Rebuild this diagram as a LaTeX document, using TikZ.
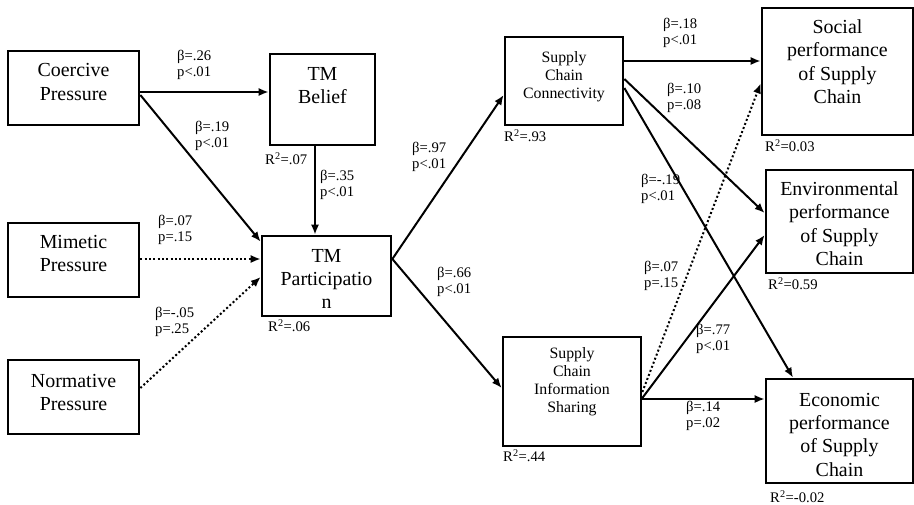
\documentclass[tikz,border=0pt]{standalone}
\usepackage{fontspec}
\setmainfont{Liberation Serif}
\usepackage{tikz}
\usetikzlibrary{arrows.meta, calc}

% box text: first baseline raised by #1 above the box centre
\newcommand{\lift}[2]{\raisebox{#1}[0pt][0pt]{\begin{tabular}[t]{@{}c@{}}#2\end{tabular}}}

\begin{document}
\begin{tikzpicture}[
        x=0.03cm, y=-0.03cm, % one unit = one pixel of the layout, y downwards
        box/.style={rectangle, draw, line width=2.3pt, inner sep=0pt,
                    font=\fontsize{17}{20}\selectfont},
        smallbox/.style={box, font=\fontsize{13.5}{15.4}\selectfont},
        coef/.style={anchor=west, inner sep=0pt, align=left,
                     font=\fontsize{12.5}{13.6}\selectfont},
        arrow/.style={line width=1.7pt, -{Latex[length=8.5pt, width=7pt]}},
        weak/.style={arrow, dotted}
      ]
      \useasboundingbox (0,0) rectangle (914,505);

      % --- Institutional pressures ---
      \node (coercive) [box, minimum width=3.93cm, minimum height=2.22cm] at (73.5,88) {\lift{9.4pt}{Coercive\\Pressure}};
      \node (mimetic) [box, minimum width=3.93cm, minimum height=2.22cm] at (73.5,260) {\lift{10.2pt}{Mimetic\\Pressure}};
      \node (normative) [box, minimum width=3.93cm, minimum height=2.22cm] at (73.5,397) {\lift{8.5pt}{Normative\\Pressure}};

      % --- Top management ---
      \node (belief) [box, minimum width=3.15cm, minimum height=2.73cm] at (322.5,99.5) {\lift{16.6pt}{TM\\Belief}};
      \node (particip) [box, minimum width=3.87cm, minimum height=2.40cm] at (326.5,276) {\lift{11.9pt}{TM\\Participatio\\n}};

      % --- Supply chain ---
      \node (connect) [smallbox, minimum width=3.54cm, minimum height=2.64cm] at (564,81) {\lift{16.2pt}{Supply\\Chain\\Connectivity}};
      \node (sharing) [smallbox, minimum width=4.14cm, minimum height=3.27cm] at (572,391.5) {\lift{28.5pt}{Supply\\Chain\\Information\\Sharing}};

      % --- Performance outcomes ---
      \node (social) [box, minimum width=4.53cm, minimum height=3.81cm] at (837.5,71.5) {\lift{32.7pt}{Social\\performance\\of Supply\\Chain}};
      \node (environ) [box, minimum width=4.41cm, minimum height=3.09cm] at (839.5,221.5) {\lift{22.5pt}{Environmental\\performance\\of Supply\\Chain}};
      \node (economic) [box, minimum width=4.41cm, minimum height=3.12cm] at (839.5,431) {\lift{21.3pt}{Economic\\performance\\of Supply\\Chain}};

      % --- Paths ---
      \draw [arrow] ($(coercive.east)+(0,4)$) -- ($(belief.west)+(0,-7.5)$);
      \draw [arrow] ($(coercive.east)+(0,7)$) -- ($(particip.north west)+(0,7)$);
      \draw [arrow] ($(belief.south)+(-7.5,0)$) -- ($(particip.north)+(-11.5,0)$);
      \draw [weak] ($(mimetic.east)+(0,-1)$) -- ($(particip.west)+(0,-17)$);
      \draw [weak] ($(normative.east)+(0,-9)$) -- ($(particip.west)+(0,1)$);
      \draw [arrow] ($(particip.east)+(0,-17)$) -- ($(connect.west)+(0,14)$);
      \draw [arrow] ($(particip.east)+(0,-17)$) -- ($(sharing.west)+(0,-3.5)$);
      \draw [arrow] ($(connect.east)+(0,-20)$) -- ($(social.west)+(0,-10.5)$);
      \draw [arrow] ($(connect.east)+(0,-2)$) -- ($(environ.west)+(0,-8.5)$);
      \draw [arrow] ($(connect.east)+(0,7)$) -- ($(economic.north)+(-46.5,0)$);
      \draw [weak] ($(sharing.east)+(0,0.5)$) -- ($(social.west)+(0,12)$);
      \draw [arrow] ($(sharing.east)+(0,6.5)$) -- ($(environ.west)+(0,13.5)$);
      \draw [arrow] ($(sharing.east)+(0,7.5)$) -- ($(economic.west)+(0,-32)$);

      % --- Path coefficients ---
      \node (c26) [coef] at (177,65) {β=.26\\p<.01};
      \node (c19) [coef] at (195,136) {β=.19\\p<.01};
      \node (c35) [coef] at (320,185) {β=.35\\p<.01};
      \node (c07m) [coef] at (158,230) {β=.07\\p=.15};
      \node (c05) [coef] at (155,322) {β=-.05\\p=.25};
      \node (c97) [coef] at (412,157) {β=.97\\p<.01};
      \node (c66) [coef] at (437,282) {β=.66\\p<.01};
      \node (c18) [coef] at (663,33) {β=.18\\p<.01};
      \node (c10) [coef] at (667,98) {β=.10\\p=.08};
      \node (c19n) [coef] at (641,189) {β=-.19\\p<.01};
      \node (c07s) [coef] at (644,276) {β=.07\\p=.15};
      \node (c77) [coef] at (696,339) {β=.77\\p<.01};
      \node (c14) [coef] at (686,416) {β=.14\\p=.02};

      % --- Explained variance ---
      \node (r07) [coef] at (265,159) {R\textsuperscript{2}=.07};
      \node (r06) [coef] at (268,326) {R\textsuperscript{2}=.06};
      \node (r93) [coef] at (504,136) {R\textsuperscript{2}=.93};
      \node (r44) [coef] at (503,456) {R\textsuperscript{2}=.44};
      \node (r03) [coef] at (765,146) {R\textsuperscript{2}=0.03};
      \node (r59) [coef] at (768,284) {R\textsuperscript{2}=0.59};
      \node (r02) [coef] at (770,497) {R\textsuperscript{2}=-0.02};

    \end{tikzpicture}
\end{document}
